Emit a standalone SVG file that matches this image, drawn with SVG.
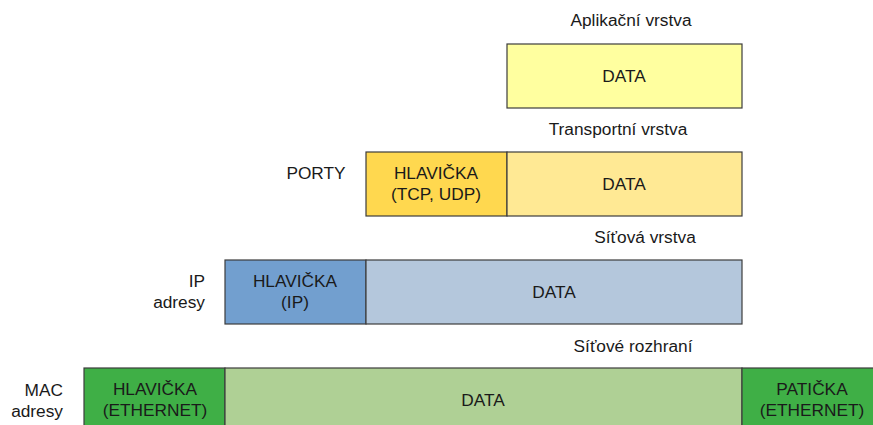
<svg xmlns="http://www.w3.org/2000/svg" width="873" height="425" viewBox="0 0 873 425">
<style>
text{font-family:"Liberation Sans",Arial,sans-serif;font-size:17.3px;fill:#1a1a1a}
.c{text-anchor:middle}
.r{text-anchor:end}
rect{stroke:#3c3c3c;stroke-width:1.2}
</style>
<rect width="873" height="425" fill="#fff" style="stroke:none"/>
<g id="app">
<text class="c" x="631" y="26">Aplikační vrstva</text>
<rect x="507" y="44" width="235" height="64" fill="#ffff9f"/>
<text class="c" x="624" y="82">DATA</text>
</g>
<g id="transport">
<text class="c" x="618" y="135">Transportní vrstva</text>
<text class="c" x="316" y="179">PORTY</text>
<rect x="366" y="152" width="141" height="64" fill="#ffd84f"/>
<rect x="507" y="152" width="235" height="64" fill="#ffe994"/>
<text class="c" x="436" y="179">HLAVIČKA</text>
<text class="c" x="436" y="200">(TCP, UDP)</text>
<text class="c" x="624" y="190">DATA</text>
</g>
<g id="network">
<text class="c" x="645" y="243">Síťová vrstva</text>
<text class="r" x="205" y="287">IP</text>
<text class="r" x="205" y="308">adresy</text>
<rect x="225" y="260" width="141" height="64" fill="#729fcf"/>
<rect x="366" y="260" width="376" height="64" fill="#b4c7dc"/>
<text class="c" x="295" y="287">HLAVIČKA</text>
<text class="c" x="295" y="308">(IP)</text>
<text class="c" x="554" y="298">DATA</text>
</g>
<g id="link">
<text class="c" x="633" y="352">Síťové rozhraní</text>
<text class="r" x="63" y="396">MAC</text>
<text class="r" x="63" y="417">adresy</text>
<rect x="84" y="368" width="141" height="64" fill="#3faf46"/>
<rect x="225" y="368" width="517" height="64" fill="#afd095"/>
<rect x="742" y="368" width="141" height="64" fill="#3faf46"/>
<text class="c" x="155" y="395">HLAVIČKA</text>
<text class="c" x="155" y="416">(ETHERNET)</text>
<text class="c" x="483" y="406">DATA</text>
<text class="c" x="812" y="395">PATIČKA</text>
<text class="c" x="812" y="416">(ETHERNET)</text>
</g>
<g id="connectors"/>
</svg>
